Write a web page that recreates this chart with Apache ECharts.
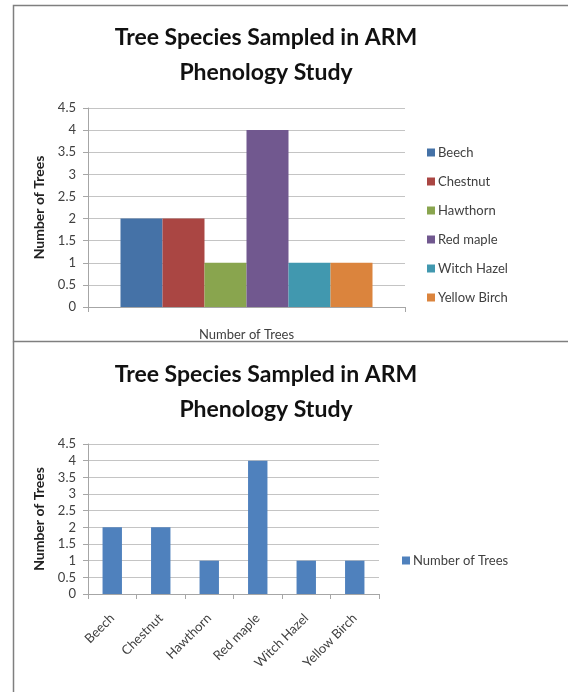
<!DOCTYPE html>
<html>
<head>
<meta charset="utf-8">
<script src="https://cdn.jsdelivr.net/npm/echarts@6/dist/echarts.min.js"></script>
<style>
  html, body { margin: 0; padding: 0; background: #fff; }
  #chart { width: 568px; height: 692px; }
</style>
</head>
<body>
<div id="chart"></div>
<script>
// data
const species = ['Beech', 'Chestnut', 'Hawthorn', 'Red maple', 'Witch Hazel', 'Yellow Birch']
const counts = [2, 2, 1, 4, 1, 1]
const seriesName = 'Number of Trees'
const yMin = 0
const yMax = 4.5
const yStep = 0.5

const titleText = 'Tree Species Sampled in ARM\nPhenology Study'
const palette = ['#4572A7', '#AA4643', '#89A54E', '#71588F', '#4198AF', '#DB843D']
const font = 'Lato, "Open Sans", sans-serif'
const textColor = '#404040'

const chart = echarts.init(document.getElementById('chart'))

const yAxisBase = (gridIndex) => ({
  type: 'value',
  gridIndex,
  min: yMin,
  max: yMax,
  interval: yStep,
  name: 'Number of Trees',
  nameLocation: 'middle',
  nameGap: 39,
  nameTextStyle: { fontFamily: font, fontWeight: 'bold', fontSize: 14, color: '#222' },
  axisLine: { show: true, lineStyle: { color: '#a6a6a6' } },
  axisTick: { show: true, length: 5, lineStyle: { color: '#a6a6a6' } },
  axisLabel: { fontFamily: font, fontSize: 13, color: textColor, margin: 12 },
  splitLine: { lineStyle: { color: '#c4c4c4' } },
})

const titleBase = (top) => ({
  text: titleText,
  left: 261,
  top,
  textAlign: 'center',
  textStyle: { fontFamily: font, fontSize: 23, fontWeight: 'bold', color: '#111', lineHeight: 35, align: 'center' },
})

// top chart: one series per species, single category
const topSeries = species.map((name, i) => ({
  name,
  type: 'bar',
  xAxisIndex: 0,
  yAxisIndex: 0,
  data: [counts[i]],
  itemStyle: { color: palette[i] },
  barGap: '0%',
  barCategoryGap: '20.5%',
}))

const option = {
  animation: false,
  textStyle: { fontFamily: font },
  title: [titleBase(15), titleBase(352)],
  legend: [
    {
      data: species,
      orient: 'vertical',
      left: 427,
      top: 146,
      padding: 0,
      itemWidth: 8,
      itemHeight: 8,
      itemGap: 16,
      icon: 'rect',
      textStyle: { fontFamily: font, fontSize: 13, color: textColor, padding: [0, 0, 0, -2] },
    },
    {
      data: [seriesName],
      orient: 'vertical',
      left: 402,
      top: 554,
      padding: 0,
      itemWidth: 8,
      itemHeight: 8,
      icon: 'rect',
      textStyle: { fontFamily: font, fontSize: 13, color: textColor, padding: [0, 0, 0, -2] },
    },
  ],
  grid: [
    { left: 88, top: 108, width: 317, height: 199 },
    { left: 88, top: 444, width: 291, height: 150 },
  ],
  xAxis: [
    {
      type: 'category',
      gridIndex: 0,
      data: [''],
      name: 'Number of Trees',
      nameLocation: 'middle',
      nameGap: 21,
      nameTextStyle: { fontFamily: font, fontSize: 13, color: textColor },
      axisLine: { lineStyle: { color: '#a6a6a6' } },
      axisTick: { show: true, length: 5, lineStyle: { color: '#a6a6a6' } },
      axisLabel: { show: false },
    },
    {
      type: 'category',
      gridIndex: 1,
      data: species,
      axisLine: { lineStyle: { color: '#a6a6a6' } },
      axisTick: { show: true, length: 5, lineStyle: { color: '#a6a6a6' } },
      axisLabel: { fontFamily: font, fontSize: 13, color: textColor, rotate: 45, margin: 22, interval: 0 },
    },
  ],
  yAxis: [yAxisBase(0), yAxisBase(1)],
  series: [
    ...topSeries,
    {
      name: seriesName,
      type: 'bar',
      xAxisIndex: 1,
      yAxisIndex: 1,
      data: counts,
      barWidth: '40%',
      itemStyle: { color: '#4F81BD' },
    },
  ],
  graphic: [
    {
      type: 'rect',
      shape: { x: 13.5, y: 5.5, width: 600, height: 336 },
      style: { fill: 'none', stroke: '#7f7f7f', lineWidth: 1.5 },
      silent: true,
    },
    {
      type: 'line',
      shape: { x1: 13.5, y1: 341.5, x2: 13.5, y2: 700 },
      style: { stroke: '#7f7f7f', lineWidth: 1.5 },
      silent: true,
    },
  ],
}

chart.setOption(option)
</script>
</body>
</html>
